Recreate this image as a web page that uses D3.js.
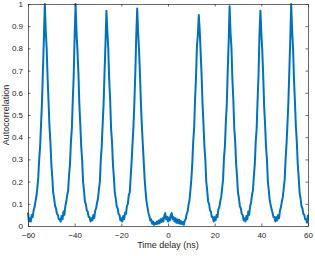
<!DOCTYPE html>
<html lang="en">
<meta charset="utf-8">
<title>Autocorrelation</title>
<script src="https://d3js.org/d3.v7.min.js"></script>
<style>
  body { margin: 0; background: #fff; }
  text { font-family: "Liberation Sans", Arial, sans-serif; fill: #262626; }
</style>
<svg width="315" height="256"></svg>
<script>
// sampled trace: t = tStart + i * tStep (ns)
var tStart = -60, tStep = 0.4;
var autocorr = [
  0.06, 0.02,
  // peak near -52.8
  0.035, 0.02, 0.05, 0.04, 0.07, 0.085, 0.11, 0.135, 0.17, 0.22, 0.30, 0.36, 0.46, 0.56, 0.70, 0.84,
  1.0,
  0.88, 0.80, 0.67, 0.56, 0.45, 0.38, 0.28, 0.22, 0.15, 0.125, 0.09, 0.08, 0.055, 0.05, 0.03, 0.03,
  // peak near -39.6
  0.02, 0.045, 0.03, 0.065, 0.05, 0.09, 0.11, 0.14, 0.16, 0.23, 0.28, 0.38, 0.44, 0.57, 0.68, 0.86,
  1.0,
  0.87, 0.79, 0.69, 0.55, 0.46, 0.36, 0.30, 0.20, 0.16, 0.11, 0.10, 0.07, 0.065, 0.04, 0.04, 0.02,
  // peak near -26.4
  0.035, 0.025, 0.05, 0.035, 0.07, 0.08, 0.105, 0.125, 0.165, 0.20, 0.30, 0.36, 0.46, 0.55, 0.69, 0.82,
  0.97,
  0.88, 0.80, 0.66, 0.57, 0.44, 0.38, 0.28, 0.22, 0.15, 0.125, 0.09, 0.08, 0.055, 0.05, 0.025, 0.035,
  // peak near -13.2
  0.02, 0.045, 0.03, 0.06, 0.055, 0.09, 0.10, 0.14, 0.15, 0.22, 0.29, 0.37, 0.45, 0.56, 0.69, 0.86,
  0.98,
  0.87, 0.79, 0.68, 0.55, 0.45, 0.37, 0.29, 0.21, 0.155, 0.11, 0.085, 0.06, 0.045, 0.025,
  // centre, -7.2 .. 7.2
  0.03, 0.01, 0.02, 0.005, 0.015, 0.008, 0.02, 0.01, 0.025, 0.012, 0.03, 0.018, 0.035, 0.02,
  0.045, 0.058, 0.03, 0.042, 0.02, 0.038, 0.025, 0.05, 0.058, 0.03, 0.04, 0.02, 0.035, 0.015,
  0.03, 0.012, 0.028, 0.01, 0.022, 0.008, 0.018, 0.006, 0.025,
  // peak near 13.2
  0.03, 0.055, 0.065, 0.095, 0.115, 0.16, 0.21, 0.28, 0.38, 0.44, 0.57, 0.67, 0.81, 0.86,
  0.95,
  0.88, 0.78, 0.68, 0.55, 0.46, 0.36, 0.30, 0.20, 0.16, 0.11, 0.10, 0.07, 0.065, 0.04, 0.04, 0.02,
  // peak near 26.4
  0.04, 0.025, 0.05, 0.04, 0.075, 0.085, 0.11, 0.13, 0.17, 0.21, 0.31, 0.36, 0.47, 0.55, 0.70, 0.83,
  0.99,
  0.87, 0.80, 0.66, 0.57, 0.44, 0.38, 0.28, 0.22, 0.15, 0.125, 0.09, 0.08, 0.055, 0.05, 0.025, 0.035,
  // peak near 39.6
  0.02, 0.045, 0.03, 0.065, 0.05, 0.09, 0.105, 0.14, 0.16, 0.225, 0.28, 0.38, 0.44, 0.57, 0.68, 0.86,
  0.97,
  0.87, 0.79, 0.68, 0.54, 0.46, 0.36, 0.30, 0.20, 0.16, 0.115, 0.095, 0.075, 0.06, 0.04, 0.04, 0.02,
  // peak near 52.8
  0.04, 0.025, 0.05, 0.035, 0.07, 0.085, 0.11, 0.13, 0.17, 0.21, 0.30, 0.37, 0.46, 0.56, 0.70, 0.84,
  1.0,
  0.88, 0.80, 0.66, 0.56, 0.45, 0.38, 0.28, 0.22, 0.15, 0.125, 0.09, 0.08, 0.055, 0.05, 0.03, 0.03,
  0.015, 0.05
];
var xTicks = [-60, -40, -20, 0, 20, 40, 60];
var yTicks = [0, 0.1, 0.2, 0.3, 0.4, 0.5, 0.6, 0.7, 0.8, 0.9, 1];

var svg = d3.select("svg");
var margin = {top: 4, right: 7, bottom: 30, left: 28};
var width = 315 - margin.left - margin.right;
var height = 256 - margin.top - margin.bottom;
var g = svg.append("g").attr("transform", "translate(" + margin.left + "," + margin.top + ")");

var x = d3.scaleLinear().domain([-60, 60]).range([0, width]);
var y = d3.scaleLinear().domain([0, 1]).range([height, 0]);

var line = d3.line()
    .x(function(d, i) { return x(tStart + i * tStep); })
    .y(function(d) { return y(d); });

g.append("path")
    .datum(autocorr)
    .attr("fill", "none")
    .attr("stroke", "#0072BD")
    .attr("stroke-width", 2)
    .attr("stroke-linejoin", "round")
    .attr("d", line);

function styleAxis(sel) {
  sel.selectAll(".domain").attr("stroke", "#262626").attr("stroke-width", 0.7);
  sel.selectAll(".tick line").attr("stroke", "#262626").attr("stroke-width", 0.7);
  sel.selectAll("text").style("font-size", "8px").attr("fill", "#262626");
}

g.append("g")
    .attr("transform", "translate(0," + height + ")")
    .call(d3.axisBottom(x).tickValues(xTicks).tickSizeInner(-2.5).tickSizeOuter(0).tickPadding(6))
    .call(styleAxis);
g.append("g")
    .call(d3.axisTop(x).tickValues(xTicks).tickSizeInner(-2.5).tickSizeOuter(0).tickFormat(""))
    .call(styleAxis);
g.append("g")
    .call(d3.axisLeft(y).tickValues(yTicks).tickSizeInner(-2.5).tickSizeOuter(0).tickPadding(5)
      .tickFormat(function(d) { return d3.format("")(+d.toFixed(1)); }))
    .call(styleAxis);
g.append("g")
    .attr("transform", "translate(" + width + ",0)")
    .call(d3.axisRight(y).tickValues(yTicks).tickSizeInner(-2.5).tickSizeOuter(0).tickFormat(""))
    .call(styleAxis);

svg.append("text")
    .attr("x", margin.left + width / 2)
    .attr("y", 248)
    .attr("text-anchor", "middle")
    .style("font-size", "9px")
    .text("Time delay (ns)");

svg.append("text")
    .attr("transform", "translate(9," + (margin.top + height / 2) + ") rotate(-90)")
    .attr("text-anchor", "middle")
    .style("font-size", "9px")
    .text("Autocorrelation");
</script>
</html>
